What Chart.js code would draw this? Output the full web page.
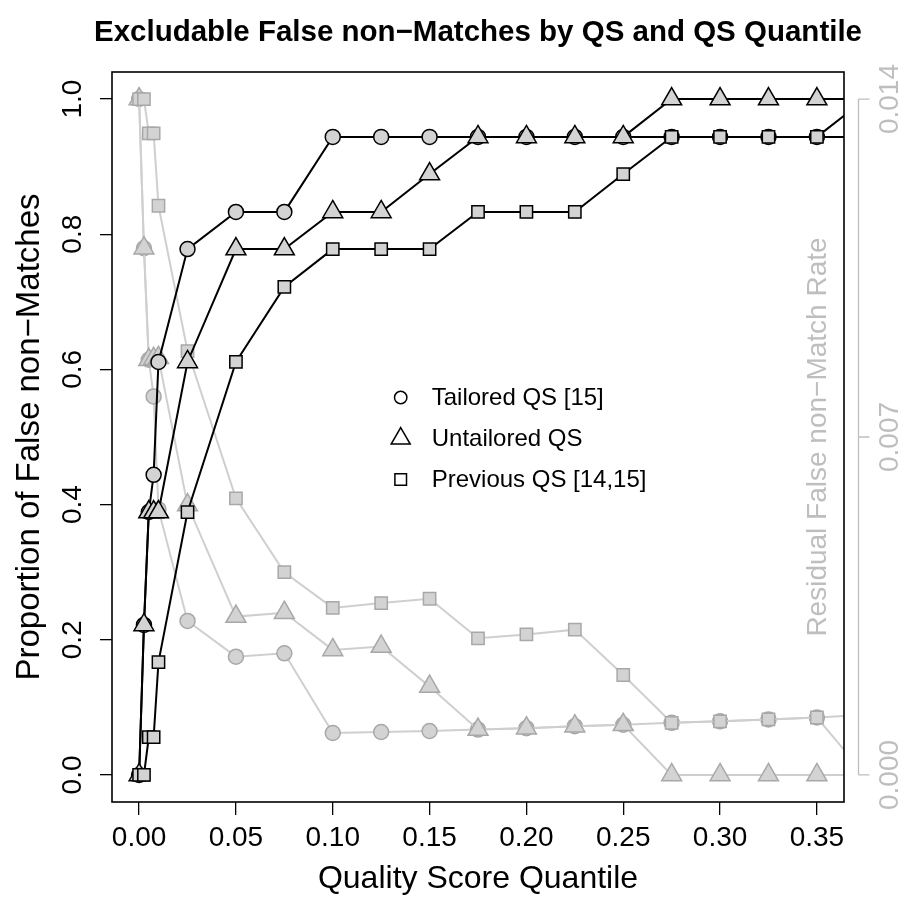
<!DOCTYPE html>
<html>
<head>
<meta charset="utf-8">
<script src="https://cdn.jsdelivr.net/npm/chart.js@4.4.1/dist/chart.umd.min.js"></script>
<style>
  html, body { margin: 0; padding: 0; background: #fff; }
  canvas { display: block; }
</style>
</head>
<body>
<canvas id="grafica" width="904" height="906"></canvas>
<script>
// cuantiles de QS (eje x)
const cuantiles = [0, 0.0025, 0.005, 0.0075, 0.01, 0.025, 0.05, 0.075, 0.1, 0.125, 0.15, 0.175, 0.2, 0.225, 0.25, 0.275, 0.3, 0.325, 0.35, 0.375];

// proporcion de falsos no-matches excluibles (eje izquierdo)
const propTailored   = [0, 0.222, 0.389, 0.444, 0.611, 0.778, 0.833, 0.833, 0.944, 0.944, 0.944, 0.944, 0.944, 0.944, 0.944, 0.944, 0.944, 0.944, 0.944, 0.944];
const propUntailored = [0, 0.222, 0.389, 0.389, 0.389, 0.611, 0.778, 0.778, 0.833, 0.833, 0.889, 0.944, 0.944, 0.944, 0.944, 1, 1, 1, 1, 1];
const propPrevious   = [0, 0, 0.056, 0.056, 0.167, 0.389, 0.611, 0.722, 0.778, 0.778, 0.778, 0.833, 0.833, 0.833, 0.889, 0.944, 0.944, 0.944, 0.944, 1];

// tasa residual de falsos no-matches (eje derecho)
const resTailored   = [0.014, 0.01091, 0.0086, 0.00784, 0.0055, 0.00319, 0.00245, 0.00252, 0.00087, 0.00089, 0.00091, 0.00094, 0.00097, 0.00101, 0.00104, 0.00108, 0.00111, 0.00115, 0.00119, 0.00125];
const resUntailored = [0.014, 0.01091, 0.0086, 0.00862, 0.00864, 0.00559, 0.00328, 0.00336, 0.00259, 0.00266, 0.00183, 0.00094, 0.00097, 0.00101, 0.00104, 0, 0, 0, 0, 0];
const resPrevious   = [0.014, 0.014, 0.01329, 0.01329, 0.01179, 0.00878, 0.00573, 0.0042, 0.00346, 0.00356, 0.00365, 0.00283, 0.00291, 0.00301, 0.00207, 0.00108, 0.00111, 0.00115, 0.00119, 0];

const xTicks = [0, 0.05, 0.1, 0.15, 0.2, 0.25, 0.3, 0.35];
const yTicks = [0, 0.2, 0.4, 0.6, 0.8, 1.0];
const rightTicks = [0, 0.007, 0.014];

const nombres = ["Tailored QS [15]", "Untailored QS", "Previous QS [14,15]"];
const estilos = ["circle", "triangle", "rect"];
const radios = { circle: 7.5, triangle: 11.5, rect: 8.7 };

const FUENTE = "'Liberation Sans', Arial, Helvetica, sans-serif";
const GRIS = "#bebebe";

function puntos(valores) {
    return cuantiles.map((q, i) => ({ x: q, y: valores[i] }));
}

function serie(valores, estilo, negro) {
    return {
        data: puntos(valores),
        yAxisID: negro ? "y" : "y2",
        borderColor: negro ? "#000000" : "#cfcfcf",
        borderWidth: 2,
        pointStyle: estilo,
        pointRadius: radios[estilo],
        pointBackgroundColor: "#d3d3d3",
        pointBorderColor: negro ? "#000000" : "#a8a8a8",
        pointBorderWidth: 1.5,
        tension: 0
    };
}

// titulo, caja, eje derecho y leyenda
const extras = {
    id: "extras",
    afterDraw(chart) {
        const ctx = chart.ctx;
        const a = chart.chartArea;
        const y2 = chart.scales.y2;
        ctx.save();

        ctx.strokeStyle = "#000";
        ctx.lineWidth = 1.6;
        ctx.strokeRect(a.left, a.top, a.right - a.left, a.bottom - a.top);

        ctx.fillStyle = "#000";
        ctx.font = "bold 29.5px " + FUENTE;
        ctx.textAlign = "center";
        ctx.textBaseline = "middle";
        ctx.fillText("Excludable False non\u2212Matches by QS and QS Quantile", (a.left + a.right) / 2, 33);

        // eje derecho desplazado
        const xe = a.right + 14.5;
        ctx.strokeStyle = GRIS;
        ctx.lineWidth = 1.3;
        ctx.beginPath();
        ctx.moveTo(xe, y2.getPixelForValue(rightTicks[0]));
        ctx.lineTo(xe, y2.getPixelForValue(rightTicks[rightTicks.length - 1]));
        rightTicks.forEach(v => {
            const py = y2.getPixelForValue(v);
            ctx.moveTo(xe, py);
            ctx.lineTo(xe + 11, py);
        });
        ctx.stroke();

        ctx.fillStyle = GRIS;
        ctx.font = "28px " + FUENTE;
        ctx.translate(a.right - 26, (a.top + a.bottom) / 2);
        ctx.rotate(-Math.PI / 2);
        ctx.fillText("Residual False non\u2212Match Rate", 0, 0);
        ctx.setTransform(1, 0, 0, 1, 0, 0);

        // leyenda
        const lx = 400.7;
        const filas = [397.5, 438.5, 479.5];
        ctx.strokeStyle = "#000";
        ctx.lineWidth = 1.5;
        ctx.fillStyle = "#000";
        ctx.font = "24px " + FUENTE;
        ctx.textAlign = "left";
        filas.forEach((fy, i) => {
            ctx.beginPath();
            if (estilos[i] == "circle") {
                ctx.arc(lx, fy, 6.2, 0, Math.PI * 2);
            } else if (estilos[i] == "triangle") {
                const r = 11;
                ctx.moveTo(lx, fy - r);
                ctx.lineTo(lx + r * 0.866, fy + r / 2);
                ctx.lineTo(lx - r * 0.866, fy + r / 2);
                ctx.closePath();
            } else {
                ctx.rect(lx - 5.8, fy - 5.8, 11.6, 11.6);
            }
            ctx.stroke();
            ctx.fillText(nombres[i], 431.7, fy + 1);
        });
        ctx.restore();
    }
};

function graficar() {
    const lienzo = document.getElementById("grafica");
    Chart.defaults.font.family = FUENTE;
    Chart.defaults.color = "#000";

    window.miGrafica = new Chart(lienzo, {
        type: "line",
        data: {
            datasets: [
                serie(propPrevious, "rect", true),
                serie(propUntailored, "triangle", true),
                serie(propTailored, "circle", true),
                serie(resPrevious, "rect", false),
                serie(resUntailored, "triangle", false),
                serie(resTailored, "circle", false)
            ]
        },
        options: {
            responsive: false,
            animation: false,
            devicePixelRatio: 1,
            events: [],
            layout: { padding: { top: 72, left: 0, right: 0, bottom: 0 } },
            plugins: {
                legend: { display: false },
                tooltip: { enabled: false },
                title: { display: false }
            },
            scales: {
                x: {
                    type: "linear",
                    position: "bottom",
                    min: -0.014,
                    max: 0.364,
                    afterBuildTicks: s => { s.ticks = xTicks.map(v => ({ value: v })); },
                    afterFit: s => { s.height = 104; },
                    ticks: {
                        autoSkip: false,
                        maxRotation: 0,
                        padding: 6,
                        font: { size: 28 },
                        color: "#000",
                        callback: v => v.toFixed(2)
                    },
                    grid: { drawOnChartArea: false, drawTicks: true, tickLength: 13, color: "#000", lineWidth: 1.3 },
                    border: { display: false },
                    title: {
                        display: true,
                        text: "Quality Score Quantile",
                        font: { size: 32 },
                        color: "#000",
                        padding: { top: 0, bottom: 8 }
                    }
                },
                y: {
                    type: "linear",
                    position: "left",
                    min: -0.04,
                    max: 1.04,
                    afterBuildTicks: s => { s.ticks = yTicks.map(v => ({ value: v })); },
                    afterFit: s => { s.width = 112; },
                    ticks: {
                        minRotation: 90,
                        maxRotation: 90,
                        crossAlign: "center",
                        padding: 7,
                        font: { size: 28 },
                        color: "#000",
                        callback: v => v.toFixed(1)
                    },
                    grid: { drawOnChartArea: false, drawTicks: true, tickLength: 12, color: "#000", lineWidth: 1.3 },
                    border: { display: false },
                    title: {
                        display: true,
                        text: "Proportion of False non\u2212Matches",
                        font: { size: 33 },
                        color: "#000",
                        padding: { top: 10, bottom: 0 }
                    }
                },
                y2: {
                    type: "linear",
                    position: "right",
                    min: -0.00056,
                    max: 0.01456,
                    afterBuildTicks: s => { s.ticks = rightTicks.map(v => ({ value: v })); },
                    afterFit: s => { s.width = 60; },
                    ticks: {
                        minRotation: 90,
                        maxRotation: 90,
                        crossAlign: "center",
                        padding: 11,
                        font: { size: 28 },
                        color: GRIS,
                        callback: v => v.toFixed(3)
                    },
                    grid: { display: false, drawTicks: false, drawOnChartArea: false },
                    border: { display: false }
                }
            }
        },
        plugins: [extras]
    });
}

graficar();
</script>
</body>
</html>
